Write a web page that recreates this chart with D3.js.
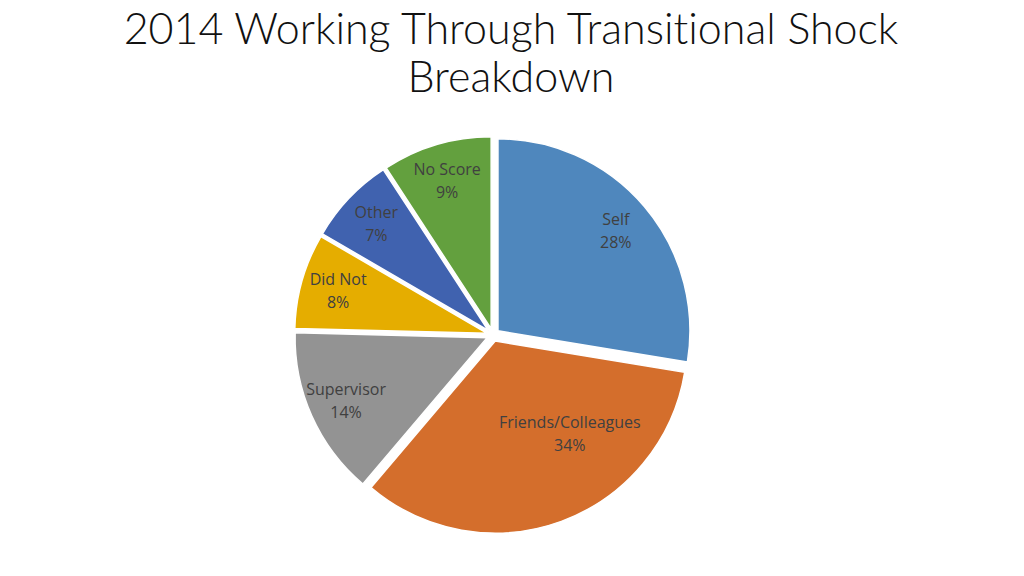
<!DOCTYPE html>
<html>
<head>
<meta charset="utf-8">
<script src="https://cdn.jsdelivr.net/npm/d3@7"></script>
<style>
  body { margin: 0; background: #fff; }
  svg { display: block; }
</style>
</head>
<body>
<svg id="chart" width="1024" height="576"></svg>
<script>
var categories = ["Self", "Friends/Colleagues", "Supervisor", "Did Not", "Other", "No Score"];
var shares = [27.6, 33.6, 14.2, 8.0, 7.4, 9.2];
var colors = ["#4f87bd", "#d46e2c", "#939393", "#e5ad00", "#4062af", "#63a03e"];
var titleLines = ["2014 Working Through Transitional Shock", "Breakdown"];

var svg = d3.select("#chart");

// title
svg.append("g").selectAll("text")
  .data(titleLines)
  .enter().append("text")
  .attr("x", 511)
  .attr("y", function(d, i) { return 44 + i * 48; })
  .attr("text-anchor", "middle")
  .style("font-family", "Lato, 'Open Sans', sans-serif")
  .style("font-weight", 300)
  .style("font-size", "43px")
  .style("font-variant-ligatures", "none")
  .style("fill", "#111")
  .text(function(d) { return d; });

var cx = 493, cy = 335, r = 192, explode = 6.5;

var pie = d3.pie().sort(null).value(function(d) { return d; });
var arcs = pie(shares);
var arc = d3.arc().innerRadius(0).outerRadius(r);

// Excel puts the big slice's label a bit off the bisector
var labelTweak = { "Friends/Colleagues": { radius: 125, shift: -0.31 } };

var g = svg.append("g").attr("transform", "translate(" + cx + "," + cy + ")");

function offset(a) {
  var mid = (a.startAngle + a.endAngle) / 2;
  return [explode * Math.sin(mid), -explode * Math.cos(mid)];
}

g.selectAll("path")
  .data(arcs)
  .enter().append("path")
  .attr("d", arc)
  .attr("transform", function(d) { var o = offset(d); return "translate(" + o[0] + "," + o[1] + ")"; })
  .attr("fill", function(d, i) { return colors[i]; })
  .attr("stroke", "#fff")
  .attr("stroke-width", 1.5);

var labels = g.selectAll("text.lbl")
  .data(arcs)
  .enter().append("text")
  .attr("class", "lbl")
  .attr("text-anchor", "middle")
  .style("font-family", "'Open Sans', sans-serif")
  .style("font-size", "16px")
  .style("fill", "#404040")
  .attr("transform", function(d, i) {
    var t = labelTweak[categories[i]] || { radius: 161, shift: 0 };
    var mid = (d.startAngle + d.endAngle) / 2 + t.shift;
    return "translate(" + (t.radius * Math.sin(mid)) + "," + (-t.radius * Math.cos(mid)) + ")";
  });

labels.append("tspan")
  .attr("x", 0)
  .attr("y", -6)
  .text(function(d, i) { return categories[i]; });
labels.append("tspan")
  .attr("x", 0)
  .attr("y", 17)
  .text(function(d) { return Math.round(d.data) + "%"; });
</script>
</body>
</html>
